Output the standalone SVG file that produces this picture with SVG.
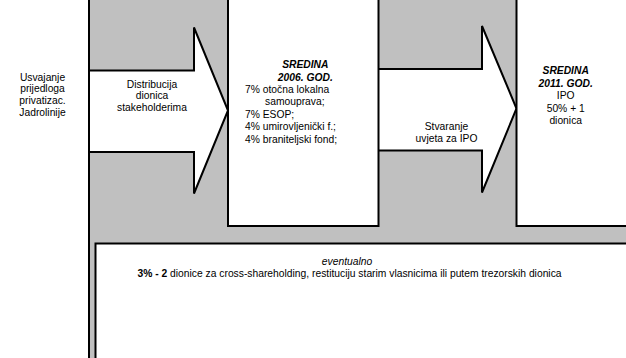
<svg xmlns="http://www.w3.org/2000/svg" width="626" height="358" viewBox="0 0 626 358">
<style>
.sh{stroke:#000;stroke-width:2;stroke-linejoin:miter}
.bg{fill:#c0c0c0}
.wh{fill:#fff}
text{font-family:"Liberation Sans",Arial,sans-serif;font-size:10.3px;fill:#000}
.c{text-anchor:middle}
.bi{font-weight:bold;font-style:italic}
.it{font-style:italic}
.b{font-weight:bold}
</style>
<rect width="626" height="358" fill="#fff"/>
<g id="background">
<rect class="sh bg" x="89" y="-10" width="560" height="380"/>
</g>
<g id="connectors">
<polygon id="arrow1" class="sh wh" points="89,70.5 194,70.5 194,27.5 228,110.5 194,193.5 194,152 89,152"/>
<polygon id="arrow2" class="sh wh" points="378,69 482,69 482,26 516.5,108.5 482,192.5 482,150.5 378,150.5"/>
</g>
<g id="start-label">
<text class="c" x="42.5" y="80.5">Usvajanje</text>
<text class="c" x="42.5" y="92.3">prijedloga</text>
<text class="c" x="42.5" y="104.1">privatizac.</text>
<text class="c" x="42.5" y="115.9">Jadrolinije</text>
</g>
<g id="arrow1-label">
<text class="c" x="152" y="87.5">Distribucija</text>
<text class="c" x="152" y="99">dionica</text>
<text class="c" x="152" y="110.5">stakeholderima</text>
</g>
<g id="node-2006">
<rect class="sh wh" x="228" y="-10" width="150.5" height="236"/>
<text class="c bi" x="305.3" y="68">SREDINA</text>
<text class="c bi" x="305.3" y="80.5">2006. GOD.</text>
<text x="245" y="93">7% otočna lokalna</text>
<text x="265" y="105">samouprava;</text>
<text x="245" y="117.5">7% ESOP;</text>
<text x="245" y="130">4% umirovljenički f.;</text>
<text x="245" y="142.5">4% braniteljski fond;</text>
</g>
<g id="arrow2-label">
<text class="c" x="446.5" y="130">Stvaranje</text>
<text class="c" x="446.5" y="141.7">uvjeta za IPO</text>
</g>
<g id="node-2011">
<rect class="sh wh" x="516.5" y="-10" width="130" height="236"/>
<text class="c bi" x="565.7" y="74">SREDINA</text>
<text class="c bi" x="565.7" y="86.5">2011. GOD.</text>
<text class="c" x="565.7" y="99">IPO</text>
<text class="c" x="565.7" y="111.5">50% + 1</text>
<text class="c" x="565.7" y="124">dionica</text>
</g>
<g id="node-eventualno">
<rect class="sh wh" x="95.5" y="243.5" width="560" height="140"/>
<text class="c it" x="347" y="265">eventualno</text>
<text class="c" x="349.5" y="276.7"><tspan class="b">3% - 2</tspan> dionice za cross-shareholding, restituciju starim vlasnicima ili putem trezorskih dionica</text>
</g>
</svg>
